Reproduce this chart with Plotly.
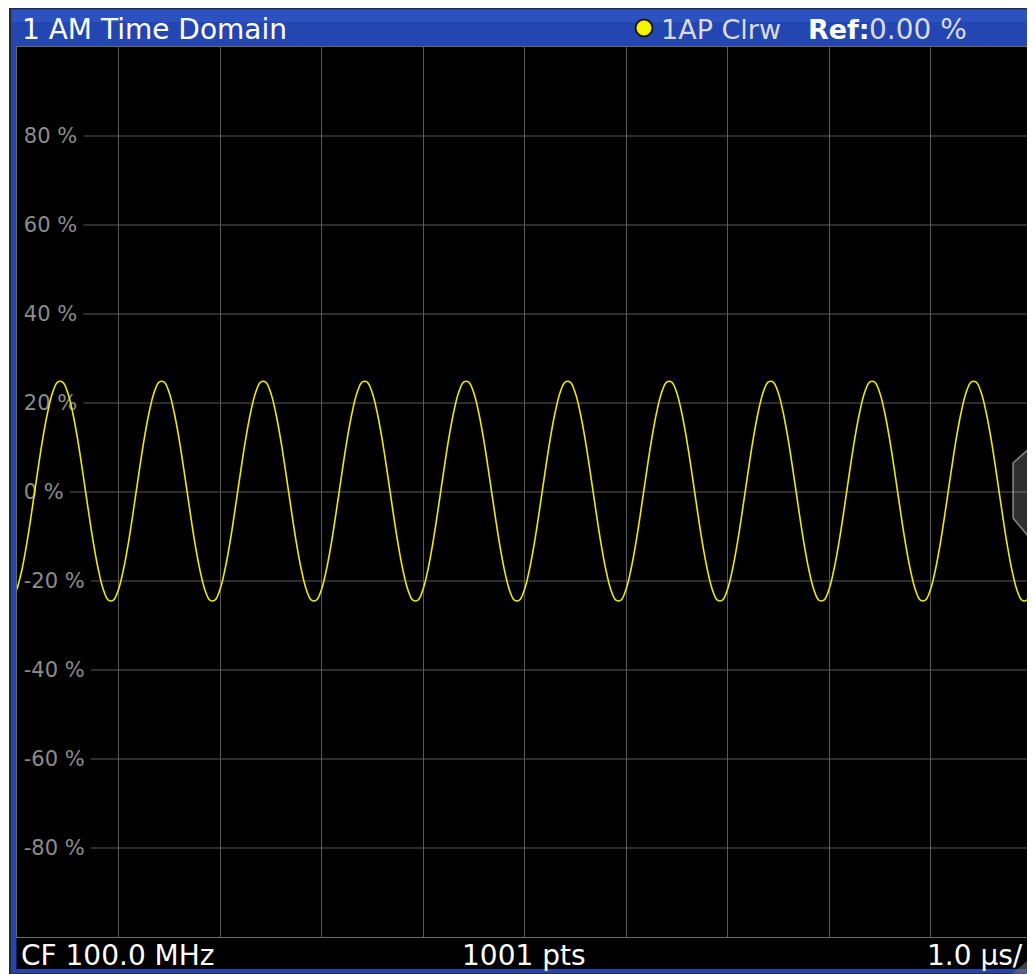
import numpy as np
import plotly.graph_objects as go

# ---------------- data ----------------
TITLE = "1 AM Time Domain"
TRACE_LABEL = "1AP Clrw"
REF_LABEL = "Ref:"
REF_VALUE = "0.00 %"
FOOTER_LEFT = "CF 100.0 MHz"
FOOTER_CENTER = "1001 pts"
FOOTER_RIGHT = "1.0 µs/"

TIME_START_US = 0.0
TIME_STOP_US = 10.0
X_GRID_US = [1, 2, 3, 4, 5, 6, 7, 8, 9]
Y_TICK_VALUES = [80, 60, 40, 20, 0, -20, -40, -60, -80]
Y_TICK_LABELS = ["80 %", "60 %", "40 %", "20 %", "0 %", "-20 %", "-40 %", "-60 %", "-80 %"]

# AM depth in %, sampled every 0.05 us across the 10 us sweep
AM_PERCENT = [
    -21.9, -17.3, -11.1, -3.7, 4.1, 11.5, 17.7, 22.3, 24.7, 24.7, 22.3, 17.7, 11.5, 4.1, -3.7, -11.1, -17.3, -21.9, -24.3, -24.3,
    -21.9, -17.3, -11.1, -3.7, 4.1, 11.5, 17.7, 22.3, 24.7, 24.7, 22.3, 17.7, 11.5, 4.1, -3.7, -11.1, -17.3, -21.9, -24.3, -24.3,
    -21.9, -17.3, -11.1, -3.7, 4.1, 11.5, 17.7, 22.3, 24.7, 24.7, 22.3, 17.7, 11.5, 4.1, -3.7, -11.1, -17.3, -21.9, -24.3, -24.3,
    -21.9, -17.3, -11.1, -3.7, 4.1, 11.5, 17.7, 22.3, 24.7, 24.7, 22.3, 17.7, 11.5, 4.1, -3.7, -11.1, -17.3, -21.9, -24.3, -24.3,
    -21.9, -17.3, -11.1, -3.7, 4.1, 11.5, 17.7, 22.3, 24.7, 24.7, 22.3, 17.7, 11.5, 4.1, -3.7, -11.1, -17.3, -21.9, -24.3, -24.3,
    -21.9, -17.3, -11.1, -3.7, 4.1, 11.5, 17.7, 22.3, 24.7, 24.7, 22.3, 17.7, 11.5, 4.1, -3.7, -11.1, -17.3, -21.9, -24.3, -24.3,
    -21.9, -17.3, -11.1, -3.7, 4.1, 11.5, 17.7, 22.3, 24.7, 24.7, 22.3, 17.7, 11.5, 4.1, -3.7, -11.1, -17.3, -21.9, -24.3, -24.3,
    -21.9, -17.3, -11.1, -3.7, 4.1, 11.5, 17.7, 22.3, 24.7, 24.7, 22.3, 17.7, 11.5, 4.1, -3.7, -11.1, -17.3, -21.9, -24.3, -24.3,
    -21.9, -17.3, -11.1, -3.7, 4.1, 11.5, 17.7, 22.3, 24.7, 24.7, 22.3, 17.7, 11.5, 4.1, -3.7, -11.1, -17.3, -21.9, -24.3, -24.3,
    -21.9, -17.3, -11.1, -3.7, 4.1, 11.5, 17.7, 22.3, 24.7, 24.7, 22.3, 17.7, 11.5, 4.1, -3.7, -11.1, -17.3, -21.9, -24.3, -24.3,
    -21.9,
]

time_us = np.linspace(TIME_START_US, TIME_STOP_US, len(AM_PERCENT))

# ---------------- layout geometry ----------------
OFF = 8                      # page body margin
W, H = 1027, 966             # figure size (fills the window after the margin)
ML, MR, MT, MB = 9, 3, 39, 37
PW, PH = W - ML - MR, H - MT - MB

FONT = "DejaVu Sans"
BLUE = "#2346b1"
GRID = "#5a5a5a"
LABEL_GRAY = "#8c8c8c"
YELLOW = "#ecec00"
TICK_SIZE = 21


def px(x):
    """window pixel x -> paper x"""
    return (x - OFF - ML) / PW


def py(y):
    """window pixel y -> paper y"""
    return (H - MB - (y - OFF)) / PH


fig = go.Figure()
fig.add_trace(go.Scatter(
    x=time_us, y=AM_PERCENT, mode="lines",
    line=dict(color=YELLOW, width=1.6, shape="spline", smoothing=1.0),
    hoverinfo="skip", showlegend=False,
))

shapes = [
    # outer dark edge, blue frame, lighter header band, black display area
    dict(type="rect", xref="paper", yref="paper", layer="below",
         x0=px(9), x1=px(1040), y0=py(980), y1=py(7.5),
         fillcolor="#2a2a32", line=dict(width=0)),
    dict(type="rect", xref="paper", yref="paper", layer="below",
         x0=px(11), x1=px(1040), y0=py(973), y1=py(9),
         fillcolor=BLUE, line=dict(width=0)),
    dict(type="rect", xref="paper", yref="paper", layer="below",
         x0=px(12), x1=px(1032), y0=py(22), y1=py(10),
         fillcolor="#2b52bf", line=dict(width=0)),
    dict(type="rect", xref="paper", yref="paper", layer="below",
         x0=px(16.5), x1=px(1032), y0=py(969), y1=py(46),
         fillcolor="black", line=dict(width=0)),
    # trace marker in header
    dict(type="circle", xref="paper", yref="paper",
         x0=px(635.5), x1=px(652.5), y0=py(36.5), y1=py(19.5),
         fillcolor="#f4f400", line=dict(color="#1a1a1a", width=2)),
    # scroll handle on the right edge
    dict(type="path", xref="paper", yref="paper",
         path=(f"M {px(1032)},{py(446)} L {px(1013)},{py(463)} L {px(1013)},{py(518)} "
               f"L {px(1032)},{py(541)} Z"),
         fillcolor="rgba(170,170,170,0.28)", line=dict(color="rgba(210,210,210,0.6)", width=1.5)),
    # resize grip in the bottom-right corner
    dict(type="path", xref="paper", yref="paper",
         path=f"M {px(1012)},{py(974)} L {px(1035)},{py(954)} L {px(1035)},{py(974)} Z",
         fillcolor="rgba(120,120,120,0.55)", line=dict(width=0)),
]

# horizontal grid lines start right after each inner y label
CHAR_EM = {"-": 0.361, " ": 0.318, "%": 0.95}
LABEL_LEFT_PX = 17.5 + 8.5
plot_left_px, plot_right_px = OFF + ML, OFF + ML + PW
for v, lab in zip(Y_TICK_VALUES, Y_TICK_LABELS):
    width_px = sum(CHAR_EM.get(c, 0.636) for c in lab) * TICK_SIZE
    start_px = LABEL_LEFT_PX + width_px + 4
    x_start = TIME_START_US + (start_px - plot_left_px) / PW * (TIME_STOP_US - TIME_START_US)
    shapes.append(dict(type="line", xref="x", yref="y", layer="below",
                       x0=x_start, x1=TIME_STOP_US, y0=v, y1=v,
                       line=dict(color=GRID, width=1)))

annotations = [
    dict(text=TITLE, x=px(20), y=py(29), xanchor="left", yanchor="middle",
         font=dict(family=FONT, size=28, color="white")),
    dict(text=TRACE_LABEL, x=px(659), y=py(29), xanchor="left", yanchor="middle",
         font=dict(family=FONT, size=27, color="#dadada")),
    dict(text=REF_LABEL, x=px(806), y=py(29), xanchor="left", yanchor="middle",
         font=dict(family=FONT, size=27, color="white", weight="bold")),
    dict(text=REF_VALUE, x=px(867), y=py(29), xanchor="left", yanchor="middle",
         font=dict(family=FONT, size=28, color="#dadada")),
    dict(text=FOOTER_LEFT, x=px(19), y=py(955), xanchor="left", yanchor="middle",
         font=dict(family=FONT, size=28, color="white")),
    dict(text=FOOTER_CENTER, x=px(524), y=py(955), xanchor="center", yanchor="middle",
         font=dict(family=FONT, size=28, color="white")),
    dict(text=FOOTER_RIGHT, x=px(1025), y=py(955), xanchor="right", yanchor="middle",
         font=dict(family=FONT, size=28, color="white")),
]
for a in annotations:
    a.update(xref="paper", yref="paper", showarrow=False)

fig.update_layout(
    width=W, height=H,
    margin=dict(l=ML, r=MR, t=MT, b=MB, pad=0),
    paper_bgcolor="white",
    plot_bgcolor="black",
    showlegend=False,
    shapes=shapes,
    annotations=annotations,
    xaxis=dict(range=[TIME_START_US, TIME_STOP_US], tickvals=X_GRID_US, showticklabels=False,
               ticks="", showgrid=True, gridcolor=GRID, gridwidth=1, zeroline=False,
               showline=True, mirror=True, linecolor="#6a6a6a", linewidth=1,
               layer="below traces", fixedrange=True),
    yaxis=dict(range=[-100, 100], tickvals=Y_TICK_VALUES, ticktext=Y_TICK_LABELS,
               ticklabelposition="inside", ticks="", ticklabelstandoff=8,
               tickfont=dict(family=FONT, size=TICK_SIZE, color=LABEL_GRAY),
               showgrid=False, zeroline=False,
               showline=True, mirror=True, linecolor="#6a6a6a", linewidth=1,
               layer="below traces", fixedrange=True),
)

fig.write_html("out.html", config={"displayModeBar": False})
